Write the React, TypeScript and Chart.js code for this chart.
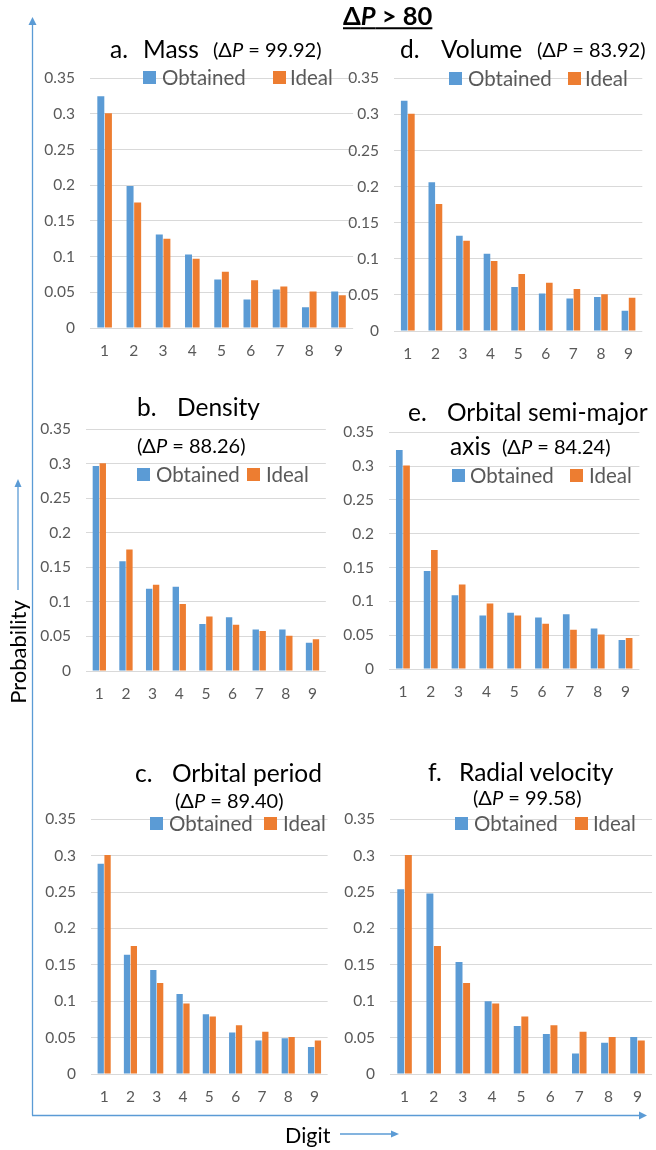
import React, { useEffect, useRef } from "react";
import { Chart, registerables } from "chart.js";

Chart.register(...registerables);

// ---------- data ----------
const DIGITS = ["1", "2", "3", "4", "5", "6", "7", "8", "9"];
const IDEAL = [0.301, 0.176, 0.125, 0.097, 0.079, 0.067, 0.058, 0.051, 0.046];
const MASS = [0.325, 0.199, 0.131, 0.103, 0.068, 0.04, 0.054, 0.029, 0.051];
const VOLUME = [0.319, 0.206, 0.132, 0.107, 0.061, 0.052, 0.045, 0.047, 0.028];
const DENSITY = [0.297, 0.159, 0.119, 0.122, 0.068, 0.078, 0.06, 0.06, 0.041];
const SEMI_MAJOR = [0.324, 0.145, 0.109, 0.079, 0.083, 0.076, 0.081, 0.06, 0.043];
const PERIOD = [0.289, 0.164, 0.143, 0.11, 0.082, 0.057, 0.046, 0.049, 0.037];
const RADIAL = [0.254, 0.248, 0.154, 0.1, 0.066, 0.055, 0.028, 0.043, 0.051];
const Y_MIN = 0;
const Y_MAX = 0.35;
const Y_STEP = 0.05;
const SERIES_NAMES = ["Obtained", "Ideal"];

// ---------- style ----------
const BLUE = "#5B9BD5";
const ORANGE = "#ED7D31";
const GRAY_TEXT = "#595959";
const GRID = "#d9d9d9";
const FONT = "Lato, 'Open Sans', 'Liberation Sans', sans-serif";

const PAD_L = 56;
const PAD_T = 12;
const PAD_B = 40;
const TITLE = 24.5;
const SUB = 20;
const LEG = 20.5;
const TICK = 15.5;

type Area = { l: number; t: number; r: number; b: number };

function BarPanel({ obtained, area }: { obtained: number[]; area: Area }) {
  const ref = useRef<HTMLCanvasElement | null>(null);
  const left = area.l - PAD_L;
  const top = area.t - PAD_T;
  const width = area.r - left;
  const height = area.b + PAD_B - top;

  useEffect(() => {
    if (!ref.current) return;
    const chart = new Chart(ref.current, {
      type: "bar",
      data: {
        labels: DIGITS,
        datasets: [
          {
            label: SERIES_NAMES[0],
            data: obtained,
            backgroundColor: BLUE,
            borderWidth: 0,
            categoryPercentage: 0.52,
            barPercentage: 0.92,
          },
          {
            label: SERIES_NAMES[1],
            data: IDEAL,
            backgroundColor: ORANGE,
            borderWidth: 0,
            categoryPercentage: 0.52,
            barPercentage: 0.92,
          },
        ],
      },
      options: {
        animation: false,
        responsive: false,
        maintainAspectRatio: false,
        layout: { padding: { top: PAD_T, left: 0, right: 0, bottom: 0 } },
        plugins: {
          legend: { display: false },
          title: { display: false },
          tooltip: { enabled: false },
        },
        scales: {
          x: {
            grid: { display: false, drawTicks: false },
            border: { display: false },
            ticks: { color: GRAY_TEXT, font: { family: FONT, size: TICK }, padding: 14 },
            afterFit: (s: any) => {
              s.height = PAD_B;
            },
          },
          y: {
            min: Y_MIN,
            max: Y_MAX,
            grid: { color: GRID, drawTicks: false, lineWidth: 1 },
            border: { display: false },
            ticks: {
              stepSize: Y_STEP,
              color: GRAY_TEXT,
              font: { family: FONT, size: TICK },
              padding: 15,
              callback: (v: any) => String(Math.round(Number(v) * 100) / 100),
            },
            afterFit: (s: any) => {
              s.width = PAD_L;
            },
          },
        },
      },
    });
    return () => chart.destroy();
  }, []);

  return (
    <canvas
      ref={ref}
      width={width}
      height={height}
      style={{ position: "absolute", left, top, width, height }}
    />
  );
}

function T({
  x,
  cy,
  size,
  children,
  color = "#000",
  weight = 400,
  extra = {},
}: {
  x: number;
  cy: number;
  size: number;
  children: React.ReactNode;
  color?: string;
  weight?: number;
  extra?: React.CSSProperties;
}) {
  return (
    <div
      style={{
        position: "absolute",
        left: x,
        top: cy,
        transform: "translateY(-50%)",
        fontFamily: FONT,
        fontSize: size,
        lineHeight: 1,
        color,
        fontWeight: weight,
        whiteSpace: "nowrap",
        ...extra,
      }}
    >
      {children}
    </div>
  );
}

function Legend({ b, bt, o, ot, cy }: { b: number; bt: number; o: number; ot: number; cy: number }) {
  const sq = (x: number, c: string) => (
    <div style={{ position: "absolute", left: x, top: cy - 6, width: 13, height: 13, background: c }} />
  );
  return (
    <>
      {sq(b, BLUE)}
      <T x={bt} cy={cy} size={LEG} color={GRAY_TEXT}>
        {SERIES_NAMES[0]}
      </T>
      {sq(o, ORANGE)}
      <T x={ot} cy={cy} size={LEG} color={GRAY_TEXT}>
        {SERIES_NAMES[1]}
      </T>
    </>
  );
}

const DP = ({ v }: { v: string }) => (
  <span>
    (Δ<i>P</i> = {v})
  </span>
);

export default function App() {
  return (
    <div
      style={{
        position: "absolute",
        left: 0,
        top: 0,
        width: 656,
        height: 1150,
        background: "#fff",
        overflow: "hidden",
      }}
    >
      <BarPanel obtained={MASS} area={{ l: 90, t: 66, r: 357, b: 328 }} />
      <BarPanel obtained={VOLUME} area={{ l: 394, t: 66, r: 647, b: 331 }} />
      <BarPanel obtained={DENSITY} area={{ l: 86, t: 417, r: 331, b: 671 }} />
      <BarPanel obtained={SEMI_MAJOR} area={{ l: 389, t: 420, r: 644, b: 669 }} />
      <BarPanel obtained={PERIOD} area={{ l: 91, t: 807, r: 333, b: 1074 }} />
      <BarPanel obtained={RADIAL} area={{ l: 390, t: 807, r: 656, b: 1074 }} />

      <svg
        width={656}
        height={1150}
        style={{ position: "absolute", left: 0, top: 0, pointerEvents: "none" }}
      >
        <g stroke={BLUE} strokeWidth={1.3} fill="none">
          <line x1={32.5} y1={1115.5} x2={32.5} y2={24} />
          <line x1={32} y1={1115.5} x2={640} y2={1115.5} />
          <line x1={18} y1={590} x2={18} y2={486} />
          <line x1={340} y1={1134} x2={392} y2={1134} />
        </g>
        <g fill={BLUE}>
          <polygon points="32.5,17 28.5,25 36.5,25" />
          <polygon points="647,1115.5 639,1111.5 639,1119.5" />
          <polygon points="18,479 14.5,487 21.5,487" />
          <polygon points="399,1134 391,1130.5 391,1137.5" />
        </g>
      </svg>

      <T x={343} cy={16} size={25.5} weight={700} extra={{ textDecoration: "underline" }}>
        Δ<i>P</i> &gt; 80
      </T>

      {/* a */}
      <T x={110} cy={49} size={TITLE}>a.</T>
      <T x={143} cy={49} size={TITLE}>Mass</T>
      <T x={213} cy={49} size={SUB}><DP v="99.92" /></T>
      <Legend b={143} bt={162} o={273} ot={290} cy={77} />

      {/* d */}
      <T x={400} cy={49} size={TITLE}>d.</T>
      <T x={441} cy={49} size={TITLE}>Volume</T>
      <T x={537} cy={49} size={SUB}><DP v="83.92" /></T>
      <Legend b={449} bt={468} o={568} ot={585} cy={78} />

      {/* b */}
      <T x={137} cy={407} size={TITLE}>b.</T>
      <T x={177} cy={407} size={TITLE}>Density</T>
      <T x={137} cy={445} size={SUB}><DP v="88.26" /></T>
      <Legend b={137} bt={156} o={247} ot={266} cy={474} />

      {/* e */}
      <T x={408} cy={412} size={TITLE}>e.</T>
      <T x={447} cy={412} size={TITLE}>Orbital semi-major</T>
      <T x={450} cy={446} size={TITLE}>axis</T>
      <T x={502} cy={446} size={SUB}><DP v="84.24" /></T>
      <Legend b={452} bt={470} o={570} ot={589} cy={475} />

      {/* c */}
      <T x={135} cy={773} size={TITLE}>c.</T>
      <T x={172} cy={773} size={TITLE}>Orbital period</T>
      <T x={175} cy={800} size={SUB}><DP v="89.40" /></T>
      <Legend b={150} bt={169} o={264} ot={283} cy={823} />

      {/* f */}
      <T x={428} cy={772} size={TITLE}>f.</T>
      <T x={459} cy={772} size={TITLE}>Radial velocity</T>
      <T x={473} cy={797} size={SUB}><DP v="99.58" /></T>
      <Legend b={455} bt={474} o={575} ot={593} cy={823} />

      <div
        style={{
          position: "absolute",
          left: 18,
          top: 652,
          transform: "translate(-50%, -50%) rotate(-90deg)",
          fontFamily: FONT,
          fontSize: 22,
          lineHeight: 1,
          whiteSpace: "nowrap",
          color: "#000",
        }}
      >
        Probability
      </div>
      <T x={285} cy={1136} size={21.5}>Digit</T>
    </div>
  );
}
